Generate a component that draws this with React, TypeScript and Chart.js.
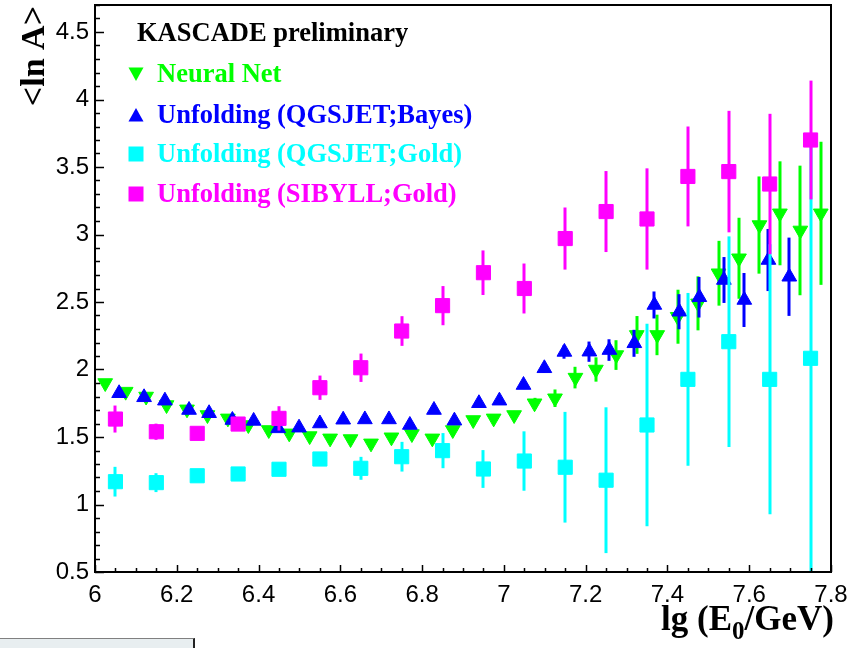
import React, { useEffect, useRef } from "react";
import { Chart, registerables } from "chart.js";

Chart.register(...registerables);

// ---- data ----
const nnX = [6.025, 6.075, 6.125, 6.175, 6.225, 6.275, 6.325, 6.375, 6.425, 6.475, 6.525, 6.575, 6.625, 6.675, 6.725, 6.775, 6.825, 6.875, 6.925, 6.975, 7.025, 7.075, 7.125, 7.175, 7.225, 7.275, 7.325, 7.375, 7.425, 7.475, 7.525, 7.575, 7.625, 7.675, 7.725, 7.775];
const nnY = [1.9, 1.836, 1.8, 1.737, 1.705, 1.663, 1.638, 1.589, 1.552, 1.527, 1.507, 1.49, 1.485, 1.453, 1.498, 1.522, 1.49, 1.552, 1.626, 1.638, 1.663, 1.75, 1.787, 1.94, 2.0, 2.107, 2.256, 2.256, 2.391, 2.49, 2.713, 2.824, 3.07, 3.157, 3.03, 3.157];
const nnErr = [0.02, 0.015, 0.015, 0.015, 0.015, 0.015, 0.015, 0.015, 0.015, 0.015, 0.015, 0.015, 0.02, 0.02, 0.02, 0.02, 0.02, 0.02, 0.025, 0.025, 0.03, 0.04, 0.065, 0.08, 0.09, 0.11, 0.14, 0.15, 0.2, 0.2, 0.24, 0.3, 0.36, 0.385, 0.48, 0.53];

const bayesX = [6.059, 6.12, 6.171, 6.23, 6.279, 6.336, 6.388, 6.448, 6.499, 6.55, 6.607, 6.66, 6.719, 6.77, 6.829, 6.879, 6.939, 6.989, 7.048, 7.099, 7.148, 7.209, 7.258, 7.319, 7.368, 7.429, 7.478, 7.538, 7.588, 7.647, 7.698];
const bayesY = [1.824, 1.794, 1.769, 1.7, 1.676, 1.626, 1.619, 1.564, 1.569, 1.6, 1.628, 1.63, 1.63, 1.589, 1.7, 1.621, 1.75, 1.769, 1.885, 2.009, 2.13, 2.132, 2.144, 2.194, 2.478, 2.428, 2.535, 2.663, 2.515, 2.811, 2.687];
const bayesErr = [0.02, 0.02, 0.02, 0.02, 0.02, 0.02, 0.02, 0.02, 0.02, 0.02, 0.02, 0.02, 0.02, 0.025, 0.025, 0.025, 0.03, 0.03, 0.03, 0.035, 0.05, 0.075, 0.08, 0.1, 0.1, 0.13, 0.15, 0.17, 0.2, 0.23, 0.29];

const goldX = [6.05, 6.15, 6.25, 6.35, 6.45, 6.55, 6.65, 6.75, 6.85, 6.95, 7.05, 7.15, 7.25, 7.35, 7.45, 7.55, 7.65, 7.75];
const qgsGoldY = [1.169, 1.162, 1.213, 1.226, 1.261, 1.337, 1.268, 1.354, 1.399, 1.263, 1.322, 1.276, 1.18, 1.589, 1.927, 2.206, 1.927, 2.083];
const qgsGoldErr = [0.11, 0.07, 0.03, 0.03, 0.03, 0.04, 0.085, 0.11, 0.13, 0.14, 0.22, 0.41, 0.54, 0.75, 0.64, 0.78, 1.0, 1.6];
const sibGoldY = [1.633, 1.539, 1.527, 1.596, 1.638, 1.865, 2.013, 2.285, 2.473, 2.717, 2.6, 2.97, 3.17, 3.115, 3.43, 3.466, 3.374, 3.7];
const sibGoldErr = [0.1, 0.06, 0.03, 0.03, 0.09, 0.09, 0.105, 0.11, 0.145, 0.165, 0.185, 0.23, 0.3, 0.375, 0.37, 0.45, 0.52, 0.44];

const xTicks = [6, 6.2, 6.4, 6.6, 6.8, 7, 7.2, 7.4, 7.6, 7.8];
const yTicks = [0.5, 1, 1.5, 2, 2.5, 3, 3.5, 4, 4.5];

const legendTitle = "KASCADE preliminary";
const seriesLabels = ["Neural Net", "Unfolding (QGSJET;Bayes)", "Unfolding (QGSJET;Gold)", "Unfolding (SIBYLL;Gold)"];
const seriesColors = ["#00ff00", "#0000ff", "#00ffff", "#ff00ff"];

const toPts = (xs: number[], ys: number[]) => xs.map((x, i) => ({ x, y: ys[i] }));

const errorBarPlugin = {
  id: "errorBars",
  beforeDatasetDraw(chart: any, args: any) {
    const ds = chart.data.datasets[args.index];
    const errs: number[] = ds.errors;
    if (!errs) return;
    const { ctx, chartArea } = chart;
    const ys = chart.scales.y;
    ctx.save();
    ctx.beginPath();
    ctx.rect(chartArea.left, chartArea.top, chartArea.right - chartArea.left, chartArea.bottom - chartArea.top);
    ctx.clip();
    ctx.strokeStyle = ds.backgroundColor;
    ctx.lineWidth = 3;
    args.meta.data.forEach((el: any, i: number) => {
      const v = ds.data[i].y;
      const e = errs[i];
      ctx.beginPath();
      ctx.moveTo(Math.round(el.x), ys.getPixelForValue(v + e));
      ctx.lineTo(Math.round(el.x), ys.getPixelForValue(v - e));
      ctx.stroke();
    });
    ctx.restore();
  },
};

function drawMarker(ctx: CanvasRenderingContext2D, style: string, x: number, y: number, color: string) {
  ctx.fillStyle = color;
  ctx.beginPath();
  if (style === "down") {
    ctx.moveTo(x - 7.5, y - 6.5);
    ctx.lineTo(x + 7.5, y - 6.5);
    ctx.lineTo(x, y + 7);
  } else if (style === "up") {
    ctx.moveTo(x - 7.5, y + 6.5);
    ctx.lineTo(x + 7.5, y + 6.5);
    ctx.lineTo(x, y - 7);
  } else {
    ctx.rect(x - 7.5, y - 7.5, 15, 15);
  }
  ctx.closePath();
  ctx.fill();
}

const framePlugin = {
  id: "frameAndText",
  afterDraw(chart: any) {
    const { ctx, chartArea } = chart;
    const { left, right, top, bottom } = chartArea;
    const xs = chart.scales.x;
    const ys = chart.scales.y;
    ctx.save();
    ctx.strokeStyle = "#000";
    ctx.lineWidth = 2;
    ctx.strokeRect(left, top, right - left, bottom - top);
    // ticks
    ctx.lineWidth = 1.5;
    ctx.beginPath();
    for (let k = 0; k <= 42; k++) {
      const v = 0.5 + k * 0.1;
      const py = Math.round(ys.getPixelForValue(v)) + 0.5;
      const len = k % 5 === 0 ? 9 : 5;
      ctx.moveTo(left, py);
      ctx.lineTo(left + len, py);
    }
    for (let k = 0; k <= 36; k++) {
      const v = 6 + k * 0.05;
      const px = Math.round(xs.getPixelForValue(v)) + 0.5;
      const len = k % 4 === 0 ? 7 : 4;
      ctx.moveTo(px, bottom);
      ctx.lineTo(px, bottom - len);
    }
    ctx.stroke();

    // axis titles
    ctx.fillStyle = "#000";
    const mainFont = "bold 35px 'Liberation Serif'";
    const subFont = "bold 25px 'Liberation Serif'";
    ctx.textBaseline = "alphabetic";
    const p1 = "lg (E";
    const sub = "0";
    const p2 = "/GeV)";
    ctx.font = mainFont;
    const w1 = ctx.measureText(p1).width;
    const w2 = ctx.measureText(p2).width;
    ctx.font = subFont;
    const ws = ctx.measureText(sub).width;
    const xEnd = 834;
    const x0 = xEnd - w1 - ws - w2;
    const base = 630;
    ctx.font = mainFont;
    ctx.textAlign = "left";
    ctx.fillText(p1, x0, base);
    ctx.font = subFont;
    ctx.fillText(sub, x0 + w1, base + 9);
    ctx.font = mainFont;
    ctx.fillText(p2, x0 + w1 + ws, base);

    ctx.save();
    ctx.translate(44, 6);
    ctx.rotate(-Math.PI / 2);
    ctx.textAlign = "right";
    ctx.textBaseline = "alphabetic";
    ctx.font = "bold 34px 'Liberation Serif'";
    ctx.fillText("<ln A>", 0, 0);
    ctx.restore();

    // legend
    ctx.font = "bold 26.5px 'Liberation Serif'";
    ctx.textAlign = "left";
    ctx.textBaseline = "middle";
    ctx.fillStyle = "#000";
    ctx.fillText(legendTitle, 137, 34);
    const styles = ["down", "up", "square", "square"];
    const ly = [74, 115, 154, 194];
    seriesLabels.forEach((lab, i) => {
      drawMarker(ctx, styles[i], 136, ly[i], seriesColors[i]);
      ctx.fillStyle = seriesColors[i];
      ctx.fillText(lab, 157, ly[i] + 1);
    });
    ctx.restore();
  },
};

export default function App() {
  const ref = useRef<HTMLCanvasElement | null>(null);
  useEffect(() => {
    if (!ref.current) return;
    const tickFont = { family: "'Liberation Sans', Arial, sans-serif", size: 24 };
    const chart = new Chart(ref.current, {
      type: "scatter",
      data: {
        datasets: [
          {
            label: seriesLabels[0],
            data: toPts(nnX, nnY),
            errors: nnErr,
            backgroundColor: seriesColors[0],
            borderColor: seriesColors[0],
            borderWidth: 1,
            pointStyle: "triangle",
            rotation: 180,
            pointRadius: 8.5,
            order: 4,
          } as any,
          {
            label: seriesLabels[1],
            data: toPts(bayesX, bayesY),
            errors: bayesErr,
            backgroundColor: seriesColors[1],
            borderColor: seriesColors[1],
            borderWidth: 1,
            pointStyle: "triangle",
            pointRadius: 8.5,
            order: 3,
          } as any,
          {
            label: seriesLabels[2],
            data: toPts(goldX, qgsGoldY),
            errors: qgsGoldErr,
            backgroundColor: seriesColors[2],
            borderColor: seriesColors[2],
            borderWidth: 1,
            pointStyle: "rect",
            pointRadius: 10,
            order: 2,
          } as any,
          {
            label: seriesLabels[3],
            data: toPts(goldX, sibGoldY),
            errors: sibGoldErr,
            backgroundColor: seriesColors[3],
            borderColor: seriesColors[3],
            borderWidth: 1,
            pointStyle: "rect",
            pointRadius: 10,
            order: 1,
          } as any,
        ],
      },
      options: {
        animation: false,
        responsive: false,
        devicePixelRatio: 1,
        layout: { autoPadding: false, padding: { left: 0, top: 5, right: 32, bottom: 0 } },
        plugins: { legend: { display: false }, tooltip: { enabled: false } },
        scales: {
          x: {
            type: "linear",
            min: 6,
            max: 7.8,
            grid: { display: false, drawTicks: false },
            border: { display: false },
            afterBuildTicks: (s: any) => {
              s.ticks = xTicks.map((v) => ({ value: v }));
            },
            afterFit: (s: any) => {
              s.height = 76;
              s.paddingLeft = 0;
              s.paddingRight = 0;
              s.paddingTop = 0;
              s.paddingBottom = 0;
            },
            ticks: {
              font: tickFont,
              color: "#000",
              padding: 9,
              maxRotation: 0,
              autoSkip: false,
              callback: (v: any) => String(Math.round(Number(v) * 10) / 10),
            },
          },
          y: {
            type: "linear",
            min: 0.5,
            max: 4.7,
            grid: { display: false, drawTicks: false },
            border: { display: false },
            afterBuildTicks: (s: any) => {
              s.ticks = yTicks.map((v) => ({ value: v }));
            },
            afterFit: (s: any) => {
              s.width = 95;
              s.paddingLeft = 0;
              s.paddingRight = 0;
              s.paddingTop = 0;
              s.paddingBottom = 0;
            },
            ticks: {
              font: tickFont,
              color: "#000",
              padding: 6,
              autoSkip: false,
              callback: (v: any) => String(Math.round(Number(v) * 10) / 10),
            },
          },
        },
      } as any,
      plugins: [errorBarPlugin, framePlugin],
    });
    return () => chart.destroy();
  }, []);

  return (
    <div style={{ position: "fixed", left: 0, top: 0, width: 863, height: 648, background: "#fff", overflow: "hidden" }}>
      <canvas ref={ref} width={863} height={648} style={{ display: "block", width: 863, height: 648 }} />
      <div
        style={{
          position: "absolute",
          left: 0,
          top: 638,
          width: 193,
          height: 10,
          background: "#e8eef0",
          borderTop: "1px solid #808080",
          borderRight: "2px solid #222",
        }}
      />
    </div>
  );
}
